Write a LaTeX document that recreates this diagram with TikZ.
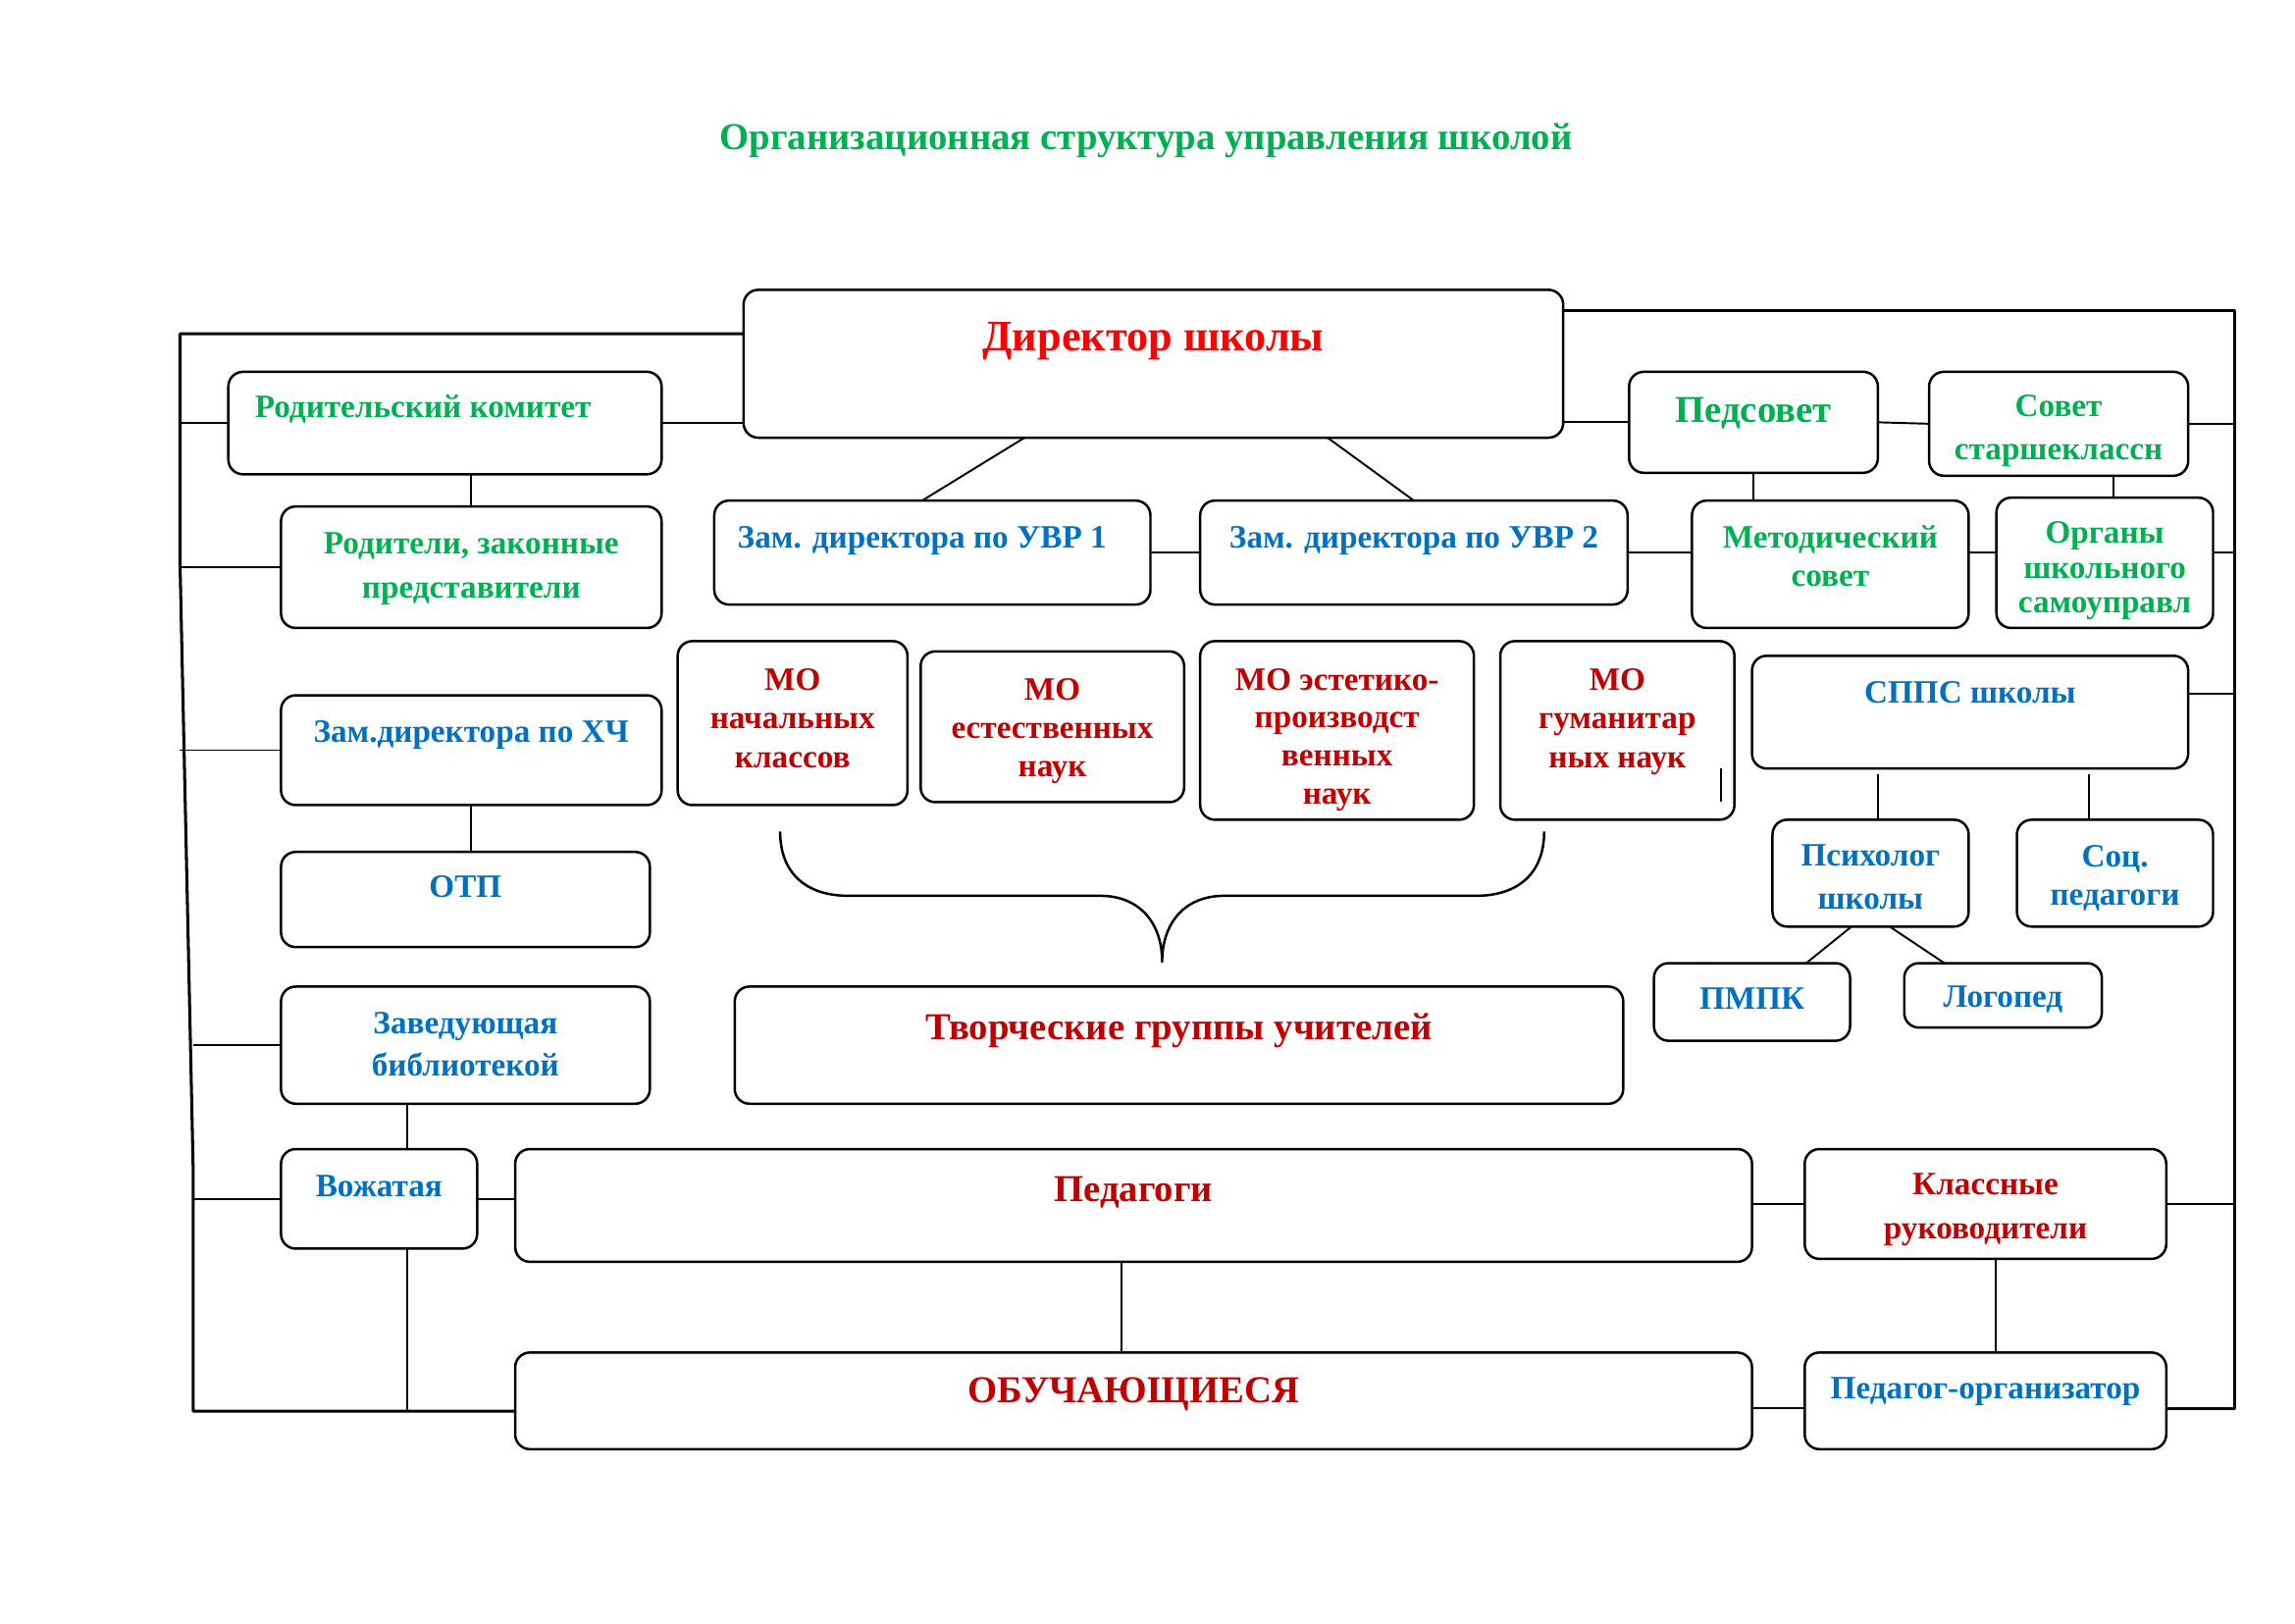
\documentclass[tikz,border=0pt]{standalone}
\usepackage{fontspec}
\setmainfont{Liberation Serif}
\usetikzlibrary{calc}
\definecolor{tgreen}{HTML}{00B050}
\definecolor{tblue}{HTML}{0070C0}
\definecolor{tred}{HTML}{FF0000}
\definecolor{dred}{HTML}{C00000}
\newlength\pxu
\setlength\pxu{0.18941mm}
% width, height, first line, size, line skip, colour, text
\newcommand\boxtext[7]{\parbox[c][#2\pxu][t]{#1\pxu}{\fontsize{#4}{#5\pxu}\selectfont\bfseries\centering
  \vspace*{\dimexpr#3\pxu-0.39em\relax}\color{#6}\rule{0pt}{0.72em}#7\par}}
\begin{document}
\begin{tikzpicture}[x=\pxu, y=-\pxu, line join=round,
	box/.style={draw, line width=0.9pt, rounded corners=1.9mm, inner sep=0pt, outer sep=0pt, anchor=north west},
	line/.style={line width=0.7pt},
	bus/.style={line width=1.1pt}]
	\useasboundingbox (0,0) rectangle (1568,1109);
	\node[text=tgreen, font=\fontsize{14}{16}\selectfont\bfseries] (title) at (783,96) {Организационная структура управления школой};
	% top rows
	\node[box] (dir) at (508,198) {\boxtext{560}{101}{32}{16}{26}{tred}{Директор школы}};
	\node[box] (parcom) at (156,254) {\boxtext{296}{70}{24}{12}{26}{tgreen}{\hspace*{-30\pxu}Родительский комитет}};
	\node[box] (parents) at (192,346) {\boxtext{260}{83}{25}{12}{30}{tgreen}{Родители, законные\\представители}};
	\node[box] (uvra) at (488,342) {\boxtext{298}{71}{25}{12}{26}{tblue}{\hspace*{-14\pxu}Зам. директора по УВР 1}};
	\node[box] (uvrb) at (820,342) {\boxtext{292}{71}{25}{12}{26}{tblue}{Зам. директора по УВР 2}};
	\node[box] (pedsov) at (1113,254) {\boxtext{170}{69}{26}{14}{26}{tgreen}{Педсовет}};
	\node[box] (sovet) at (1318,254) {\boxtext{177}{71}{23}{12}{30}{tgreen}{Совет\\старшеклассн}};
	\node[box] (metod) at (1156,342) {\boxtext{189}{87}{25}{12}{26}{tgreen}{Методический\\совет}};
	\node[box] (organy) at (1364,340) {\boxtext{148}{89}{24}{12}{23.5}{tgreen}{Органы\\школьного\\самоуправл}};
	% MO
	\node[box] (moa) at (463,438) {\boxtext{157}{112}{26}{12}{26.5}{dred}{МО\\начальных\\классов}};
	\node[box] (mob) at (629,445) {\boxtext{180}{103}{26}{12}{26}{dred}{МО\\естественных\\наук}};
	\node[box] (moc) at (820,438) {\boxtext{187}{122}{26}{12}{26}{dred}{МО эстетико-\\производст\\венных\\наук}};
	\node[box] (mod) at (1025,438) {\boxtext{160}{122}{26}{12}{26.5}{dred}{МО\\гуманитар\\ных наук}};
	% right side
	\node[box] (spps) at (1197,448) {\boxtext{298}{77}{25}{12}{26}{tblue}{СППС школы}};
	\node[box] (psych) at (1211,560) {\boxtext{134}{73}{24}{12}{30}{tblue}{Психолог\\школы}};
	\node[box] (socped) at (1378,560) {\boxtext{134}{73}{25}{12}{26}{tblue}{Соц.\\педагоги}};
	\node[box] (pmpk) at (1130,658) {\boxtext{134}{53}{24}{12}{26}{tblue}{ПМПК}};
	\node[box] (logop) at (1301,658) {\boxtext{135}{44}{23}{12}{26}{tblue}{Логопед}};
	% left side
	\node[box] (zamhch) at (192,475) {\boxtext{260}{75}{25}{12}{26}{tblue}{Зам.директора по ХЧ}};
	\node[box] (otp) at (192,582) {\boxtext{252}{65}{24}{12}{26}{tblue}{ОТП}};
	\node[box] (bibl) at (192,674) {\boxtext{252}{80}{25}{12}{29}{tblue}{Заведующая\\библиотекой}};
	\node[box] (tvor) at (502,674) {\boxtext{607}{80}{28}{14}{26}{dred}{Творческие группы учителей}};
	\node[box] (vozh) at (192,785) {\boxtext{134}{68}{25}{12}{26}{tblue}{Вожатая}};
	\node[box] (pedag) at (352,785) {\boxtext{845}{77}{27}{14}{26}{dred}{Педагоги}};
	\node[box] (klass) at (1233,785) {\boxtext{247}{75}{24}{12}{30}{dred}{Классные\\руководители}};
	\node[box] (obuch) at (352,924) {\boxtext{845}{66}{26}{14}{26}{dred}{ОБУЧАЮЩИЕСЯ}};
	\node[box] (pedorg) at (1233,924) {\boxtext{247}{66}{24}{12}{26}{tblue}{Педагог-организатор}};
	% outer lines
	\coordinate (lt) at (123,228);
	\coordinate (lm) at (123,385);
	\coordinate (ln) at (132,800);
	\coordinate (lb) at (132,964);
	\coordinate (rt) at (1527,212);
	\coordinate (rb) at (1527,962);
	\coordinate (vx) at (278,853);
	\draw[bus] (lt -| dir.west) -- (lt) -- (lm) -- (ln) -- (lb) -- (lb -| obuch.west);
	\draw[bus] (rt -| dir.east) -- (rt) -- (rb) -- (rb -| pedorg.east);
	\draw[line] (parcom.west) -- (parcom.west -| lt);
	\draw[line] (parents.west) -- (parents.west -| lt);
	\draw[line] (zamhch.west) -- (zamhch.west -| lt);
	\draw[line] (bibl.west) -- (bibl.west -| lb);
	\draw[line] (vozh.west) -- (vozh.west -| lb);
	\draw[line] (sovet.east) -- (sovet.east -| rt);
	\draw[line] (uvrb.east -| organy.east) -- (uvrb.east -| rt);
	\draw[line] ($(spps.north east)+(0,26)$) -- ($(spps.north east -| rt)+(0,26)$);
	\draw[line] (klass.east) -- (klass.east -| rt);
	% inner lines
	\draw[line] (parcom.east) -- (parcom.east -| dir.west);
	\draw[line] (pedsov.west) -- (pedsov.west -| dir.east);
	\draw[line] (pedsov.east) -- (sovet.west);
	\draw[line] (parents.north) -- (parents.north |- parcom.south);
	\draw[line] ($(dir.south)+(-88,0)$) -- ($(uvra.north)+(-7,0)$);
	\draw[line] ($(dir.south)+(119,0)$) -- (uvrb.north);
	\draw[line] (uvra.east) -- (uvrb.west);
	\draw[line] (uvrb.east) -- (uvrb.east -| metod.west);
	\draw[line] (uvrb.east -| metod.east) -- (uvrb.east -| organy.west);
	\draw[line] (pedsov.south) -- (pedsov.south |- metod.north);
	\draw[line] ($(organy.north)+(6,0)$) -- ($(organy.north |- sovet.south)+(6,0)$);
	\draw[line] (zamhch.south) -- (zamhch.south |- otp.north);
	\draw[line] ($(psych.north)+(5,0)$) -- ($(psych.north |- spps.south)+(5,4)$);
	\draw[line] ($(socped.north)+(-18,0)$) -- ($(socped.north |- spps.south)+(-18,4)$);
	\draw[line] ($(psych.south)+(-13,0)$) -- ($(pmpk.north)+(37,0)$);
	\draw[line] ($(psych.south)+(13,0)$) -- ($(logop.north)+(-40,0)$);
	\draw[line] (bibl.south -| vx) -- (vozh.north -| vx);
	\draw[line] (vozh.south -| vx) -- (lb -| vx);
	\draw[line] (vozh.east) -- (vozh.east -| pedag.west);
	\draw[line] ($(pedag.south)+(-8,0)$) -- ($(obuch.north)+(-8,0)$);
	\draw[line] (klass.west) -- (klass.west -| pedag.east);
	\draw[line] ($(klass.south)+(7,0)$) -- ($(pedorg.north)+(7,0)$);
	\draw[line] (rb -| obuch.east) -- (rb -| pedorg.west);
	\draw[line] (mod.south east) ++(-9,-35) -- ++(0,23);
	% brace
	\draw[line, line width=0.9pt] (533,568) .. controls (533,596) and (550,612) .. (580,612) -- (752,612)
		.. controls (778,612) and (794,630) .. (794,657) .. controls (794,630) and (810,612) .. (836,612)
		-- (1008,612) .. controls (1038,612) and (1055,596) .. (1055,568);
\end{tikzpicture}
\end{document}
